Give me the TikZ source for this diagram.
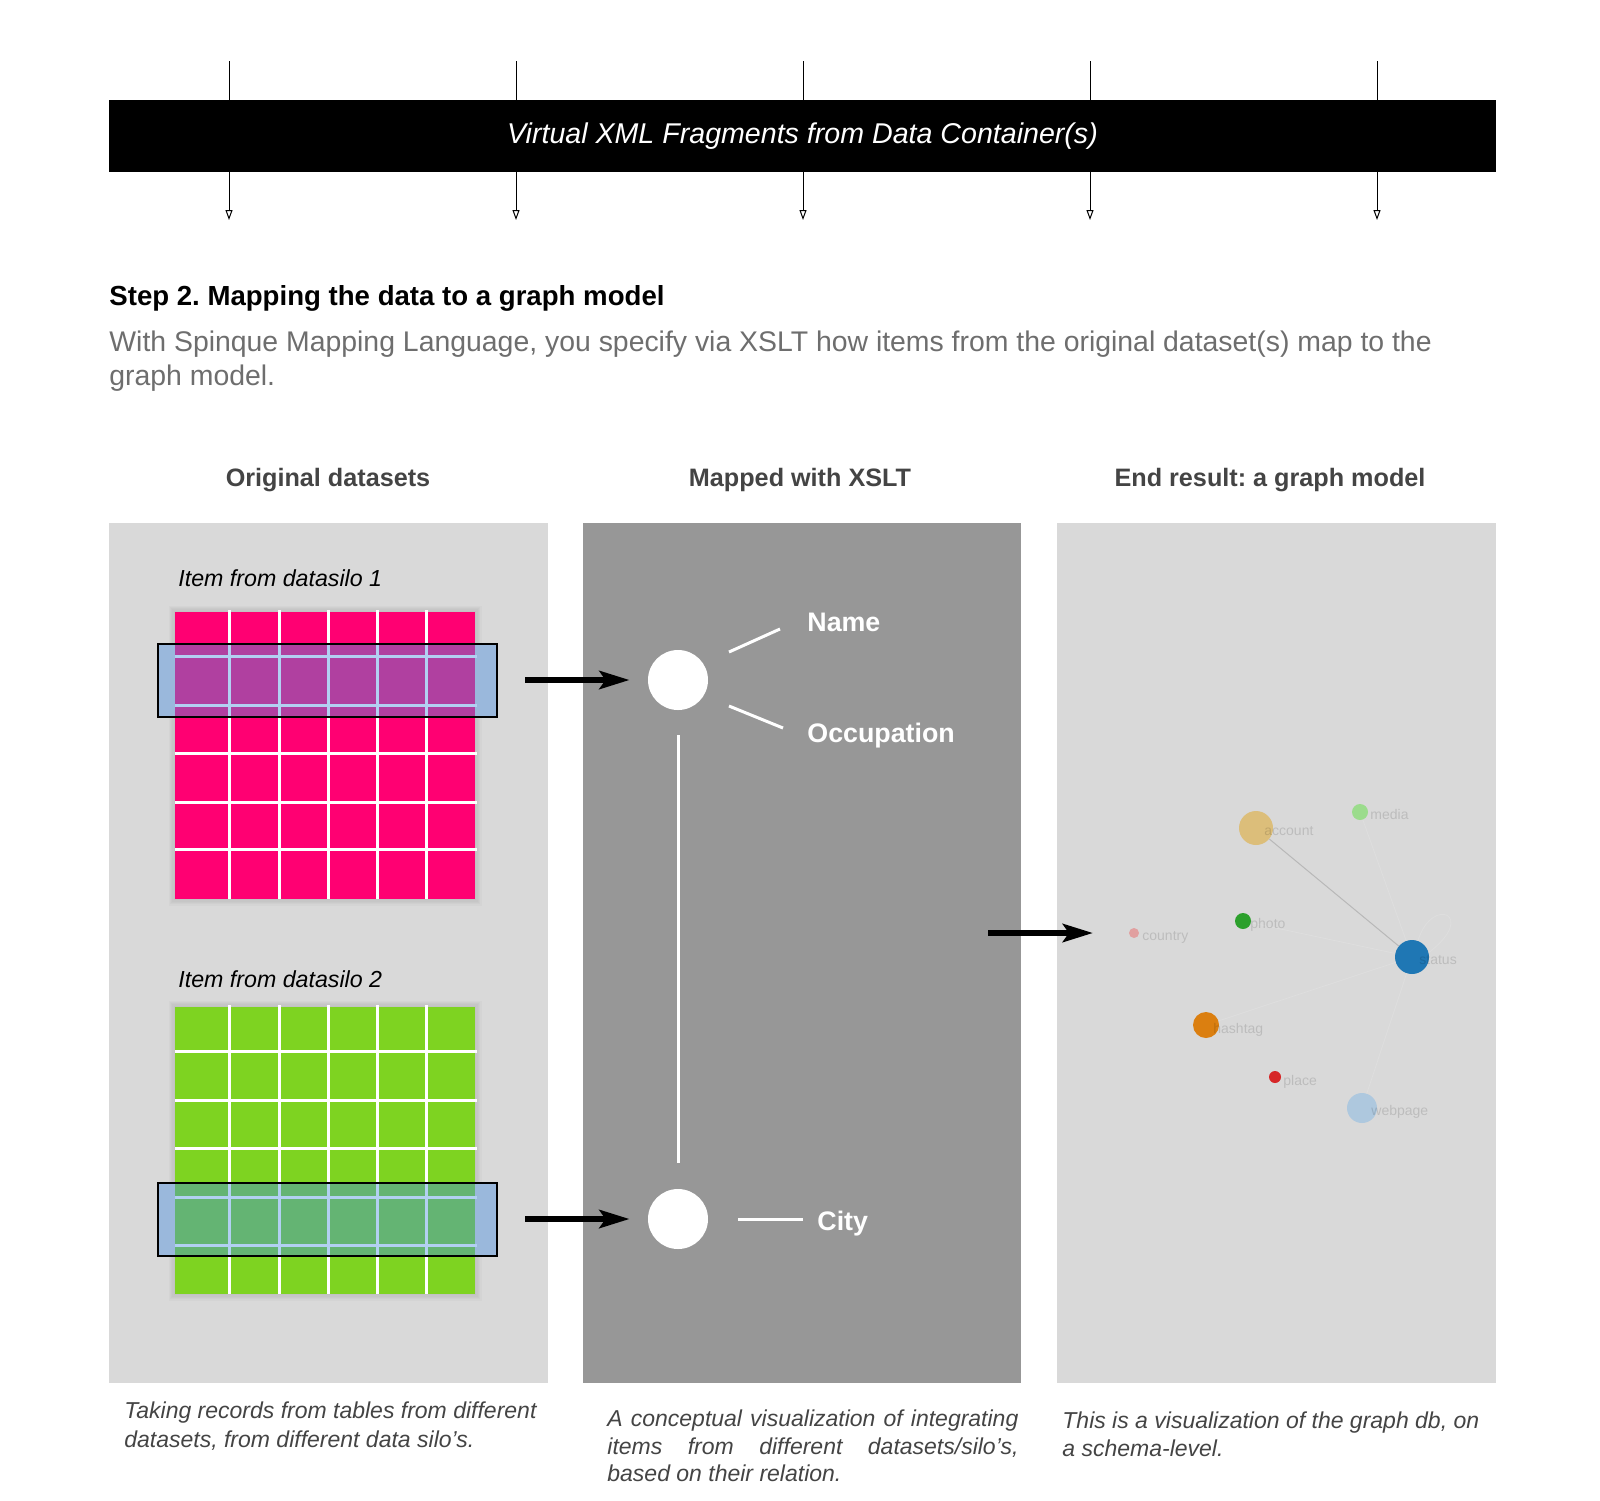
\documentclass[tikz,border=0pt]{standalone}
\usepackage{fontspec}
\setmainfont{Liberation Sans}
\usetikzlibrary{arrows.meta}
\definecolor{panellight}{HTML}{D9D9D9}
\definecolor{panelmid}{HTML}{979797}
\definecolor{pinkcell}{HTML}{FF0072}
\definecolor{pinkhl}{HTML}{B040A0}
\definecolor{greencell}{HTML}{7ED321}
\definecolor{greenhl}{HTML}{64B473}
\definecolor{hlblue}{HTML}{9AB8DC}
\definecolor{hlline}{HTML}{B2D0F2}
\definecolor{headgray}{HTML}{444444}
\definecolor{paragray}{HTML}{6E6E6E}
\definecolor{captxt}{HTML}{444444}
\definecolor{cAccount}{HTML}{DCBE7A}
\definecolor{cMedia}{HTML}{9BDC8C}
\definecolor{cPhoto}{HTML}{2CA02C}
\definecolor{cCountry}{HTML}{E1A0A0}
\definecolor{cStatus}{HTML}{1F77B4}
\definecolor{cHashtag}{HTML}{DB7F10}
\definecolor{cPlace}{HTML}{D62728}
\definecolor{cWebpage}{HTML}{AEC8DE}
\tikzset{
  thinarrow/.style={draw=black, line width=0.5pt, -{Triangle[open,length=5pt,width=3.5pt]}},
  bigarrow/.style={draw=black, line width=3pt, -{Stealth[length=15pt,width=9pt,inset=3pt]}},
  wline/.style={draw=white, line width=1.5pt},
  gline/.style={draw=white, line width=1.5pt},
  hline/.style={draw=hlline, line width=1.5pt},
  bigdot/.style={circle, fill=white, minimum size=30pt, inner sep=0pt},
  gdot/.style={circle, inner sep=0pt},
  glabel/.style={font=\fontsize{7pt}{8pt}\selectfont, text=black, text opacity=0.13, inner sep=0pt, anchor=base west},
  faintedge/.style={draw=black!13, line width=0.4pt},
  capt/.style={font=\fontsize{11.5pt}{14pt}\selectfont\itshape, text=captxt, inner sep=0pt, anchor=base west},
  itemlbl/.style={font=\fontsize{11.6pt}{14pt}\selectfont\itshape, text=black, inner sep=0pt, anchor=base west},
  colhead/.style={font=\fontsize{12.6pt}{15pt}\selectfont\bfseries, text=headgray, inner sep=0pt, anchor=base},
  attr/.style={font=\fontsize{13.4pt}{16pt}\selectfont\bfseries, text=white, inner sep=0pt, anchor=base west},
  para/.style={font=\fontsize{14.2pt}{17pt}\selectfont, text=paragray, inner sep=0pt, anchor=base west}
}
\begin{document}
\frenchspacing
\begin{tikzpicture}[x=0.5pt,y=-0.5pt]
\useasboundingbox[fill=white] (0,0) rectangle (1600,1500);

% ---------- top arrows and bar ----------
\foreach \i/\x in {1/229,2/516,3/803,4/1090,5/1377}{
  \coordinate (t\i) at (\x,61);
  \coordinate (b\i) at (\x,220);
  \draw[thinarrow] (t\i) -- (b\i);
}
\node[fill=black, minimum width=693.5pt, minimum height=36pt, inner sep=0pt,
      text=white, font=\fontsize{14.3pt}{17pt}\selectfont\itshape] (bar) at (802.5,136)
      {Virtual XML Fragments from Data Container(s)};

% ---------- heading and paragraph ----------
\node[anchor=base west, inner sep=0pt, font=\fontsize{13.8pt}{16pt}\selectfont\bfseries] (step) at (109,305)
  {Step 2. Mapping the data to a graph model};
\node[para] (par1) at (109,351) {With Spinque Mapping Language, you specify via XSLT how items from the original dataset(s) map to the};
\node[para] (par2) at (109,385) {graph model.};

% ---------- column headings ----------
\node[colhead] (h1) at (328,486) {Original datasets};
\node[colhead] (h2) at (800,486) {Mapped with XSLT};
\node[colhead] (h3) at (1270,486) {End result: a graph model};

% ---------- panels ----------
\fill[panellight] (109,523) rectangle (548,1383);
\fill[panelmid] (583,523) rectangle (1021,1383);
\fill[panellight] (1057,523) rectangle (1496,1383);

% ---------- left panel: datasilo 1 ----------
\node[itemlbl] (item1) at (178,586) {Item from datasilo 1};
\foreach \k in {1,...,5}{
  \fill[black, opacity=0.018] (175-\k*1.3,612-\k*1.3) rectangle (475+\k*1.3,899+\k*1.3);
}
\fill[pinkcell] (175,612) rectangle (475,899);
\foreach \x in {229,279,328,377,426}{ \draw[gline] (\x,610) -- (\x,899); }
\foreach \y in {656,705,753,802,849}{ \draw[gline] (175,\y) -- (477,\y); }
\fill[hlblue] (158,644) rectangle (497,717);
\fill[pinkhl] (175,644) rectangle (475,717);
\foreach \x in {229,279,328,377,426}{ \draw[hline] (\x,644) -- (\x,717); }
\foreach \y in {656,705}{ \draw[hline] (175,\y) -- (477,\y); }
\draw[black, line width=0.6pt] (158,644) rectangle (497,717);

% ---------- left panel: datasilo 2 ----------
\node[itemlbl] (item2) at (178,987) {Item from datasilo 2};
\foreach \k in {1,...,5}{
  \fill[black, opacity=0.018] (175-\k*1.3,1007-\k*1.3) rectangle (475+\k*1.3,1294+\k*1.3);
}
\fill[greencell] (175,1007) rectangle (475,1294);
\foreach \x in {229,279,328,377,426}{ \draw[gline] (\x,1005) -- (\x,1294); }
\foreach \y in {1051,1100,1148,1197,1245}{ \draw[gline] (175,\y) -- (477,\y); }
\fill[hlblue] (158,1183) rectangle (497,1256);
\fill[greenhl] (175,1183) rectangle (475,1256);
\foreach \x in {229,279,328,377,426}{ \draw[hline] (\x,1183) -- (\x,1256); }
\foreach \y in {1197,1245}{ \draw[hline] (175,\y) -- (477,\y); }
\draw[black, line width=0.6pt] (158,1183) rectangle (497,1256);

% ---------- middle panel ----------
\node[bigdot] (c1) at (678,680) {};
\node[bigdot] (c2) at (678,1219) {};
\coordinate (a1) at (525,680);
\coordinate (a2) at (525,1219);
\draw[bigarrow, shorten >=9pt] (a1) -- (c1);
\draw[bigarrow, shorten >=9pt] (a2) -- (c2);

\node[attr] (name) at (807,631) {Name};
\node[attr] (occ) at (807,742) {Occupation};
\node[attr] (city) at (817,1230) {City};
\coordinate (n1) at (729,652); \coordinate (n2) at (780,629);
\coordinate (o1) at (729,706); \coordinate (o2) at (783,728);
\coordinate (ci1) at (738,1219); \coordinate (ci2) at (803,1219);
\coordinate (v1) at (678,735); \coordinate (v2) at (678,1163);
\draw[wline] (n1) -- (n2);
\draw[wline] (o1) -- (o2);
\draw[wline] (ci1) -- (ci2);
\draw[wline] (v1) -- (v2);

% ---------- arrow to right panel ----------
\coordinate (m1) at (988,933);
\coordinate (m2) at (1093,933);
\draw[bigarrow] (m1) -- (m2);

% ---------- right panel: graph ----------
\node[gdot, fill=cAccount, minimum size=17pt] (ga) at (1256,828) {};
\node[gdot, fill=cMedia, minimum size=8pt] (gm) at (1360,812) {};
\node[gdot, fill=cPhoto, minimum size=8pt] (gp) at (1243,921) {};
\node[gdot, fill=cCountry, minimum size=5pt] (gc) at (1134,933) {};
\node[gdot, fill=cStatus, minimum size=17pt] (gs) at (1412,957) {};
\node[gdot, fill=cHashtag, minimum size=13pt] (gh) at (1206,1025) {};
\node[gdot, fill=cPlace, minimum size=6pt] (gpl) at (1275,1077) {};
\node[gdot, fill=cWebpage, minimum size=15pt] (gw) at (1362,1108) {};

\draw[draw=black!28, line width=0.5pt] (ga) -- (gs);
\draw[faintedge] (gh) -- (gs);
\draw[faintedge] (gs) -- (gw);
\draw[faintedge] (gm) -- (gs);
\draw[faintedge] (gp) -- (gs);
\draw[faintedge] (gs.70) .. controls (1432,895) and (1478,915) .. (gs.15);

\node[glabel] (la) at (1264,835) {account};
\node[glabel] (lm) at (1370,819) {media};
\node[glabel] (lp) at (1250,928) {photo};
\node[glabel] (lc) at (1142,940) {country};
\node[glabel] (ls) at (1419,964) {status};
\node[glabel] (lh) at (1213,1033) {hashtag};
\node[glabel] (lpl) at (1283,1085) {place};
\node[glabel] (lw) at (1371,1115) {webpage};

% ---------- captions ----------
\node[capt] (cap1a) at (124,1418) {Taking records from tables from different};
\node[capt] (cap1b) at (124,1447) {datasets, from different data silo’s.};
\node[capt] (cap2a) at (607,1426) {\makebox[205.5pt][s]{A conceptual visualization of integrating}};
\node[capt] (cap2b) at (607,1454) {\makebox[205.5pt][s]{items from different datasets/silo’s,}};
\node[capt] (cap2c) at (607,1481) {based on their relation.};
\node[capt] (cap3a) at (1062,1428) {This is a visualization of the graph db, on};
\node[capt] (cap3b) at (1062,1456) {a schema-level.};
\end{tikzpicture}
\end{document}
